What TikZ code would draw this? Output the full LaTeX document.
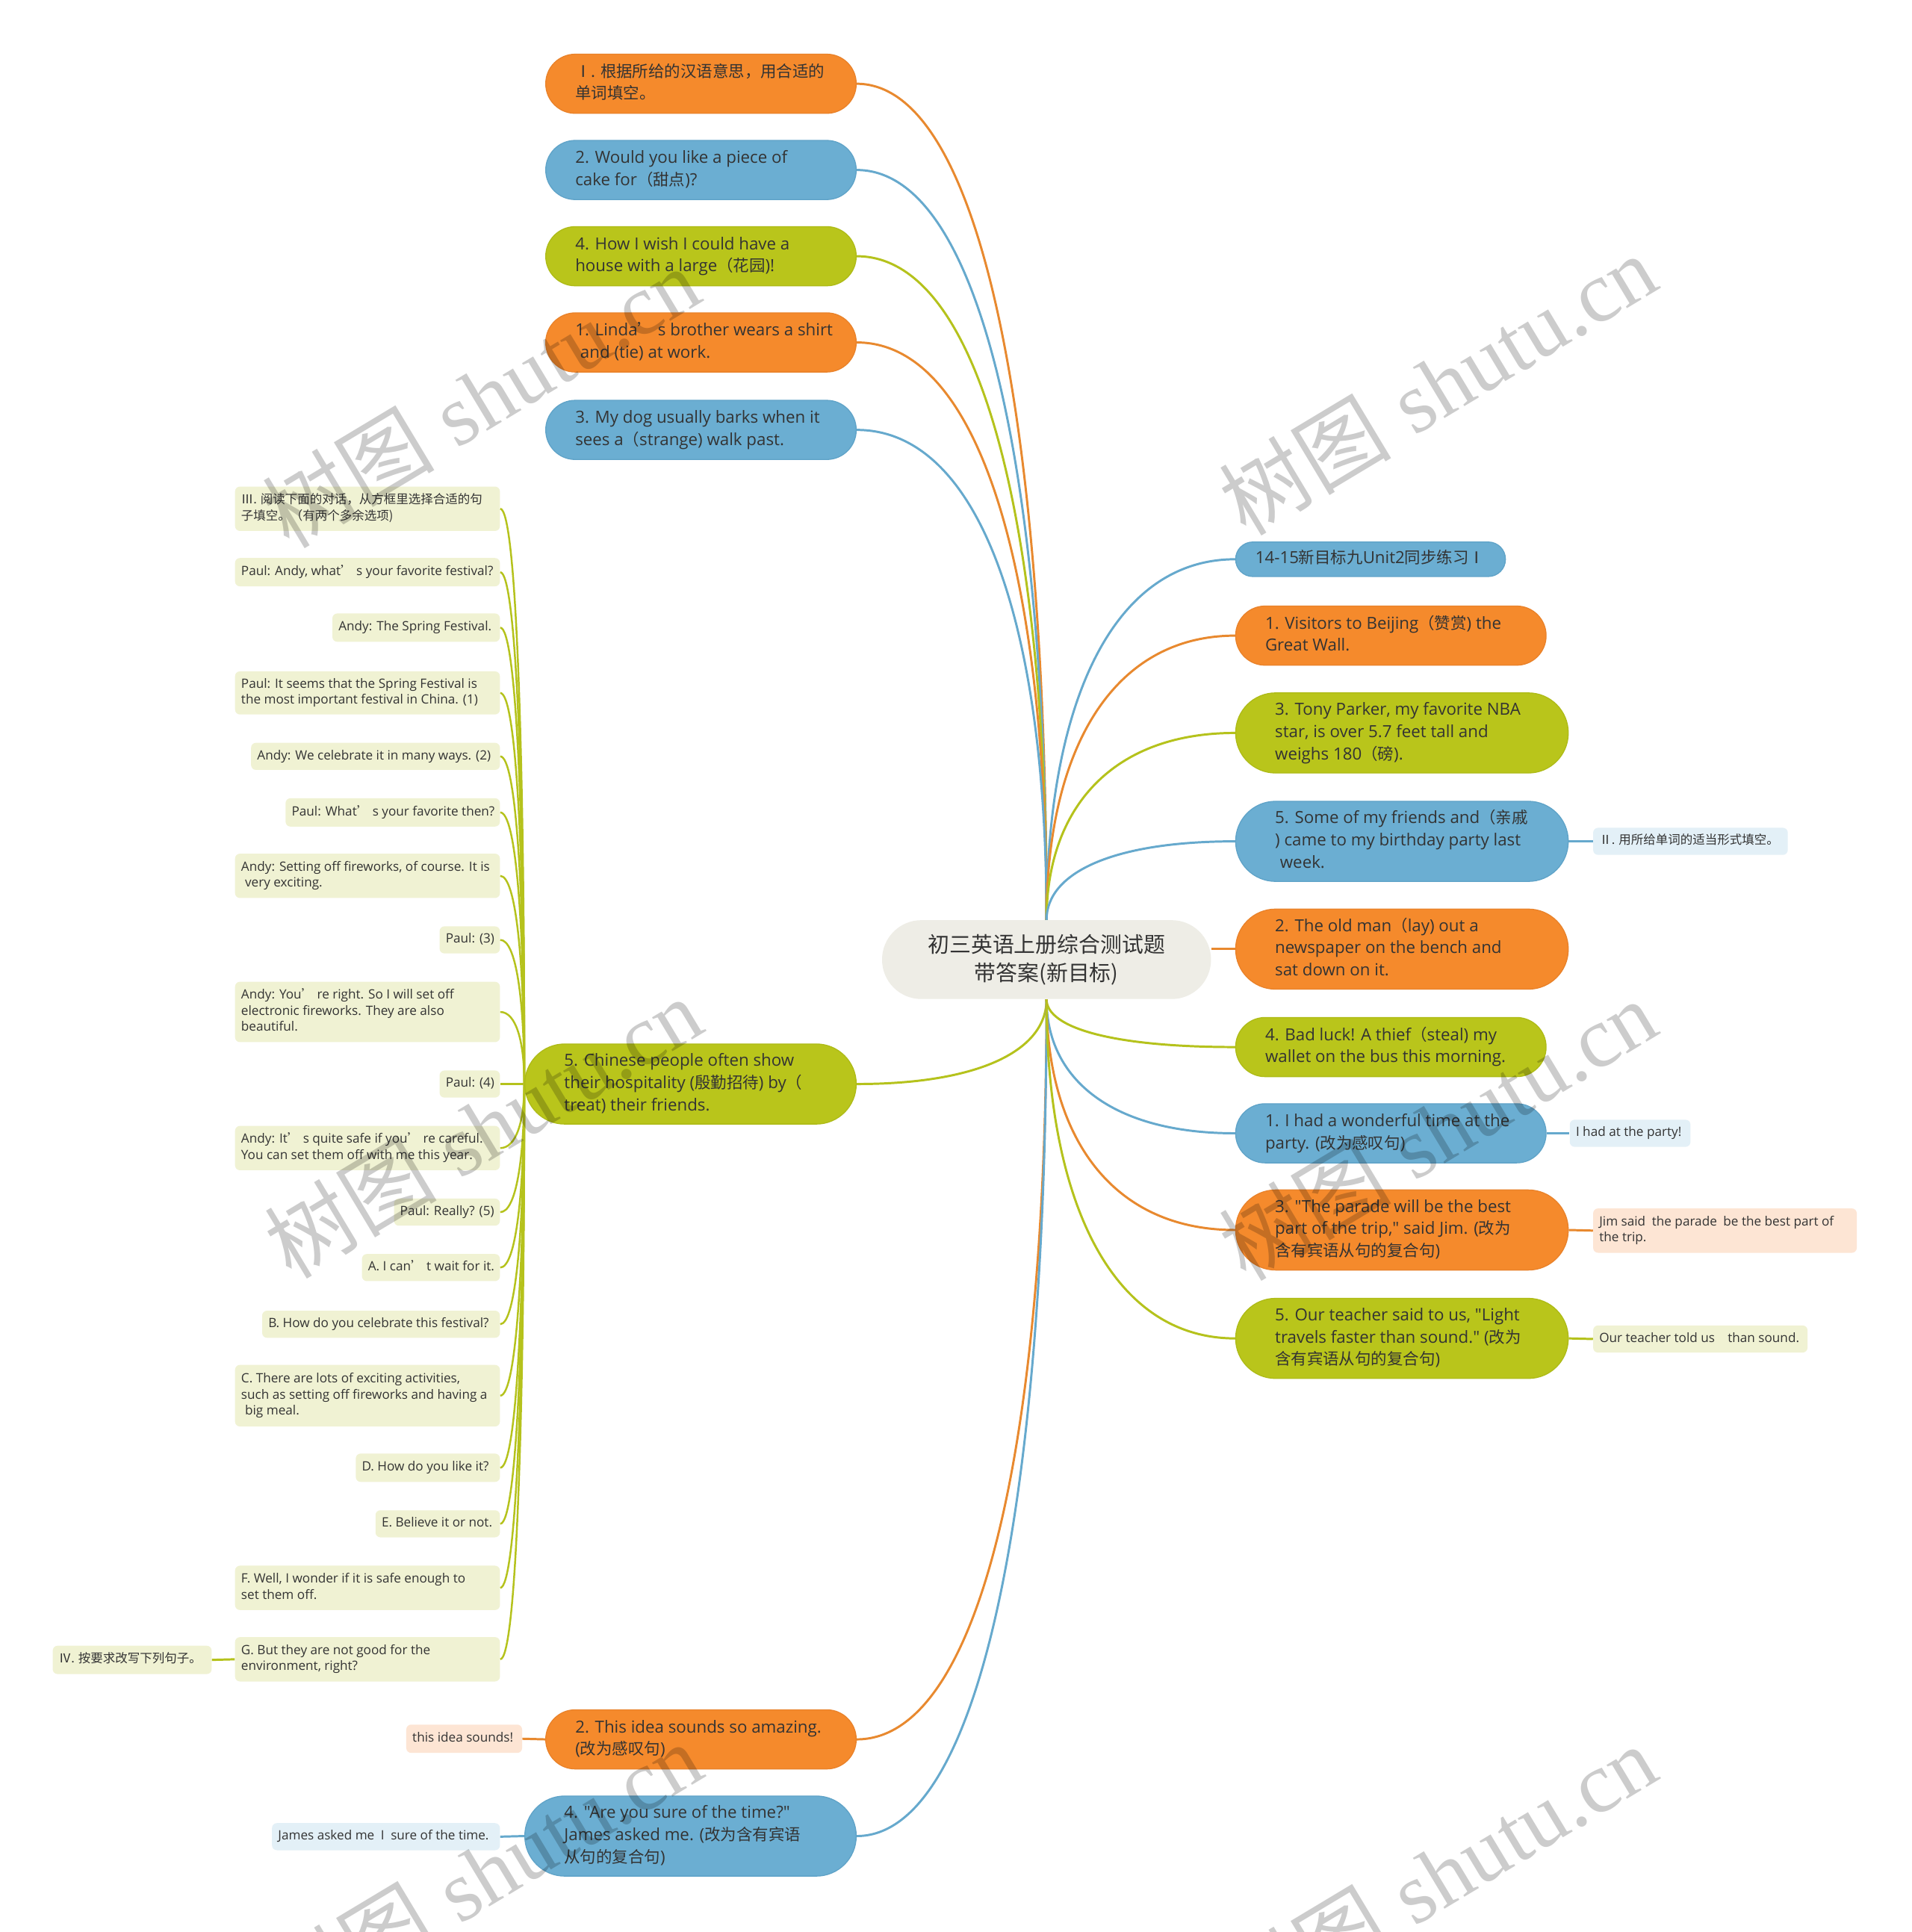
\documentclass[tikz,border=0pt]{standalone}
\usepackage{fontspec}
\setmainfont{Open Sans}[Scale=1.04,Ligatures=TeXOff]
\newfontfamily\cjkfont{Noto Sans CJK SC}[Ligatures=TeXOff]
\newfontfamily\wmfont{Liberation Serif}
\newcommand\zh[1]{{\cjkfont #1}}
\newcommand\pl[2]{\makebox[#1][l]{\begin{tabular}{@{}l@{}}#2\end{tabular}}}
\usetikzlibrary{calc}
\pgfdeclarelayer{bg}
\pgfsetlayers{bg,main}
\definecolor{orf}{HTML}{F58A2C}
\definecolor{ord}{HTML}{E9822A}
\definecolor{blf}{HTML}{6BAED2}
\definecolor{bld}{HTML}{5FA3C8}
\definecolor{grf}{HTML}{B9C51B}
\definecolor{grd}{HTML}{AEBB17}
\definecolor{cenf}{HTML}{EEEDE6}
\definecolor{kgf}{HTML}{F0F2D3}
\definecolor{kbf}{HTML}{E3F0F7}
\definecolor{kof}{HTML}{FDE5D4}
\definecolor{txt}{HTML}{333333}
\definecolor{orl}{HTML}{E8892F}
\definecolor{bll}{HTML}{66A9CD}
\definecolor{grl}{HTML}{B5C21C}
\tikzset{
  pillbase/.style={draw, line width=0.8pt, inner ysep=0pt, text=txt, font=\fontsize{13}{18}\selectfont},
  ptwo/.style={pillbase, inner xsep=24pt, minimum height=48pt, rounded corners=23.9pt},
  pthree/.style={pillbase, inner xsep=32pt, minimum height=65pt, rounded corners=32.4pt},
  pone/.style={pillbase, inner xsep=16pt, minimum height=28pt, rounded corners=13.9pt},
  por/.style={fill=orf, draw=ord},
  pbl/.style={fill=blf, draw=bld},
  pgr/.style={fill=grf, draw=grd},
  kid/.style={rounded corners=4pt, inner xsep=5pt, inner ysep=0pt, text=txt, font=\fontsize{10}{13}\selectfont},
  kgr/.style={kid, fill=kgf},
  kbl/.style={kid, fill=kbf},
  kor/.style={kid, fill=kof},
  lor/.style={draw=orl, line width=1.8pt},
  lbl/.style={draw=bll, line width=1.8pt},
  lgr/.style={draw=grl, line width=1.8pt},
  wm/.style={rotate=31, text=black, text opacity=0.2, font=\fontsize{70}{76}\selectfont},
}
\newcommand\conn[3]{\draw[#1] (#2) .. controls ($(#2)!0.6!(#2|-#3)$) and ($(#3)!0.65!(#3-|#2)$) .. (#3);}
\begin{document}
\begin{tikzpicture}[x=1pt,y=-1pt]
\useasboundingbox (0,0) rectangle (1552,1568.4);
% centre
\node[fill=cenf, minimum width=267pt, minimum height=64pt, rounded corners=31.9pt, align=center, inner sep=0pt, text=txt, font=\cjkfont\fontsize{17.5}{23}\selectfont] (C) at (849.5,779) {初三英语上册综合测试题\\带答案(新目标)};
% left main
\node[ptwo,por] (L1) at (569,68) {\pl{204pt}{\zh{Ⅰ. 根据所给的汉语意思，用合适的}\\\zh{单词填空。}}};
\node[ptwo,pbl] (L2) at (569,138) {\pl{204pt}{2. Would you like a piece of\\cake for\zh{（甜点})?}};
\node[ptwo,pgr] (L3) at (569,208) {\pl{204pt}{4. How I wish I could have a\\house with a large\zh{（花园})!}};
\node[ptwo,por] (L4) at (569,278) {\pl{204pt}{1. Linda\zh{’} s brother wears a shirt\\\hspace*{0.3em}and (tie) at work.}};
\node[ptwo,pbl] (L5) at (569,349) {\pl{204pt}{3. My dog usually barks when it\\sees a\zh{（}strange) walk past.}};
\node[pthree,pgr] (L6) at (560.5,880) {\pl{205pt}{5. Chinese people often show\\their hospitality (\zh{殷勤招待}) by\zh{（}\\treat) their friends.}};
\node[ptwo,por] (L7) at (569,1412) {\pl{204pt}{2. This idea sounds so amazing.\\(\zh{改为感叹句})}};
\node[pthree,pbl] (L8) at (560.5,1490.5) {\pl{205pt}{4. "Are you sure of the time?"\\James asked me. (\zh{改为含有宾语}\\\zh{从句的复合句})}};
% right main
\node[pone,pbl] (R1) at (1112.5,454) {\pl{187pt}{14-15\zh{新目标九}Unit2\zh{同步练习Ⅰ}}};
\node[ptwo,por] (R2) at (1129,516) {\pl{204pt}{1. Visitors to Beijing\zh{（赞赏}) the\\Great Wall.}};
\node[pthree,pgr] (R3) at (1138,595) {\pl{206pt}{3. Tony Parker, my favorite NBA\\star, is over 5.7 feet tall and\\weighs 180\zh{（磅}).}};
\node[pthree,pbl] (R4) at (1138,683) {\pl{206pt}{5. Some of my friends and\zh{（亲戚}\\) came to my birthday party last\\\hspace*{0.3em}week.}};
\node[pthree,por] (R5) at (1138,770.5) {\pl{206pt}{2. The old man\zh{（}lay) out a\\newspaper on the bench and\\sat down on it.}};
\node[ptwo,pgr] (R6) at (1129,850) {\pl{204pt}{4. Bad luck! A thief\zh{（}steal) my\\wallet on the bus this morning.}};
\node[ptwo,pbl] (R7) at (1129,920) {\pl{204pt}{1. I had a wonderful time at the\\party. (\zh{改为感叹句})}};
\node[pthree,por] (R8) at (1138,998.5) {\pl{206pt}{3. "The parade will be the best\\part of the trip," said Jim. (\zh{改为}\\\zh{含有宾语从句的复合句})}};
\node[pthree,pgr] (R9) at (1138,1086.5) {\pl{206pt}{5. Our teacher said to us, "Light\\travels faster than sound." (\zh{改为}\\\zh{含有宾语从句的复合句})}};
% right children
\node[kbl,anchor=west,minimum height=22pt] (CR4) at (1293,683) {\pl{148pt}{\zh{Ⅱ. 用所给单词的适当形式填空。}}};
\node[kbl,anchor=west,minimum height=22pt] (CR7) at (1274,920) {\pl{88pt}{I had at the party!}};
\node[kor,anchor=west,minimum height=36pt] (CR8) at (1293,999) {\pl{204pt}{Jim said\hspace{0.5em}the parade\hspace{0.5em}be the best part of\\the trip.}};
\node[kgr,anchor=west,minimum height=22pt] (CR9) at (1293,1087) {\pl{164pt}{Our teacher told us\hspace{1em}than sound.}};
% left children of L6
\node[kgr,anchor=east,minimum height=36pt] (K1) at (406,413) {\pl{205pt}{\zh{Ⅲ. 阅读下面的对话，从方框里选择合适的句}\\\zh{子填空。（有两个多余选项)}}};
\node[kgr,anchor=east,minimum height=23pt] (K2) at (406,464.5) {\pl{205pt}{Paul: Andy, what\zh{’} s your favorite festival?}};
\node[kgr,anchor=east,minimum height=23pt] (K3) at (406,509.5) {\pl{126pt}{Andy: The Spring Festival.}};
\node[kgr,anchor=east,minimum height=35pt] (K4) at (406,562.5) {\pl{205pt}{Paul: It seems that the Spring Festival is\\the most important festival in China. (1)}};
\node[kgr,anchor=east,minimum height=22pt] (K5) at (406,614) {\pl{192pt}{Andy: We celebrate it in many ways. (2)}};
\node[kgr,anchor=east,minimum height=23pt] (K6) at (406,659.5) {\pl{164pt}{Paul: What\zh{’} s your favorite then?}};
\node[kgr,anchor=east,minimum height=36pt] (K7) at (406,711) {\pl{205pt}{Andy: Setting off fireworks, of course. It is\\\hspace*{0.3em}very exciting.}};
\node[kgr,anchor=east,minimum height=22pt] (K8) at (406,763) {\pl{39pt}{Paul: (3)}};
\node[kgr,anchor=east,minimum height=49pt] (K9) at (406,821.5) {\pl{205pt}{Andy: You\zh{’} re right. So I will set off\\electronic fireworks. They are also\\beautiful.}};
\node[kgr,anchor=east,minimum height=22pt] (K10) at (406,880) {\pl{39pt}{Paul: (4)}};
\node[kgr,anchor=east,minimum height=36pt] (K11) at (406,932) {\pl{205pt}{Andy: It\zh{’} s quite safe if you\zh{’} re careful.\\You can set them off with me this year.}};
\node[kgr,anchor=east,minimum height=22pt] (K12) at (406,984) {\pl{76pt}{Paul: Really? (5)}};
\node[kgr,anchor=east,minimum height=22pt] (K13) at (406,1029) {\pl{102pt}{A. I can\zh{’} t wait for it.}};
\node[kgr,anchor=east,minimum height=22pt] (K14) at (406,1075) {\pl{183pt}{B. How do you celebrate this festival?}};
\node[kgr,anchor=east,minimum height=50pt] (K15) at (406,1133) {\pl{205pt}{C. There are lots of exciting activities,\\such as setting off fireworks and having a\\\hspace*{0.3em}big meal.}};
\node[kgr,anchor=east,minimum height=23pt] (K16) at (406,1191.5) {\pl{107pt}{D. How do you like it?}};
\node[kgr,anchor=east,minimum height=22pt] (K17) at (406,1237) {\pl{91pt}{E. Believe it or not.}};
\node[kgr,anchor=east,minimum height=36pt] (K18) at (406,1289) {\pl{205pt}{F. Well, I wonder if it is safe enough to\\set them off.}};
\node[kgr,anchor=east,minimum height=36pt] (K19) at (406,1347) {\pl{205pt}{G. But they are not good for the\\environment, right?}};
\node[kgr,anchor=east,minimum height=23pt] (K20) at (172,1347.5) {\pl{119pt}{\zh{Ⅳ. 按要求改写下列句子。}}};
% children of L7, L8
\node[kor,anchor=east,minimum height=23pt] (CL7) at (424,1411.5) {\pl{84pt}{this idea sounds!}};
\node[kbl,anchor=east,minimum height=22pt] (CL8) at (406,1491) {\pl{175pt}{James asked me\hspace{0.5em}I\hspace{0.5em}sure of the time.}};
% connectors
\begin{pgfonlayer}{bg}
\fill[white] (0,0) rectangle (1552,1568.4);
\conn{lor}{C.north}{L1.east}
\conn{lbl}{C.north}{L2.east}
\conn{lgr}{C.north}{L3.east}
\conn{lor}{C.north}{L4.east}
\conn{lbl}{C.north}{L5.east}
\conn{lgr}{C.south}{L6.east}
\conn{lor}{C.south}{L7.east}
\conn{lbl}{C.south}{L8.east}
\conn{lbl}{C.north}{R1.west}
\conn{lor}{C.north}{R2.west}
\conn{lgr}{C.north}{R3.west}
\conn{lbl}{C.north}{R4.west}
\draw[lor] (C.east|-R5.west) -- (R5.west);
\conn{lgr}{C.south}{R6.west}
\conn{lbl}{C.south}{R7.west}
\conn{lor}{C.south}{R8.west}
\conn{lgr}{C.south}{R9.west}
\draw[lbl] (R4.east) -- (CR4.west);
\draw[lbl] (R7.east) -- (CR7.west);
\draw[lor] (R8.east) -- (CR8.west);
\draw[lgr] (R9.east) -- (CR9.west);
\draw[lor] (L7.west) -- (CL7.east);
\draw[lbl] (L8.west) -- (CL8.east);
\draw[lgr] (K19.west) -- (K20.east);
\foreach \k in {1,...,19} {\conn{lgr,line width=1.5pt}{L6.west}{K\k.east}}
\end{pgfonlayer}
% watermarks
\foreach \wx/\wy [count=\i] in {390/322, 1167/312, 392/915, 1167/917, 392/1520, 1167/1522}
  \node[wm] (wm\i) at (\wx,\wy) {\zh{树图} {\wmfont shutu.cn}};
\end{tikzpicture}
\end{document}
